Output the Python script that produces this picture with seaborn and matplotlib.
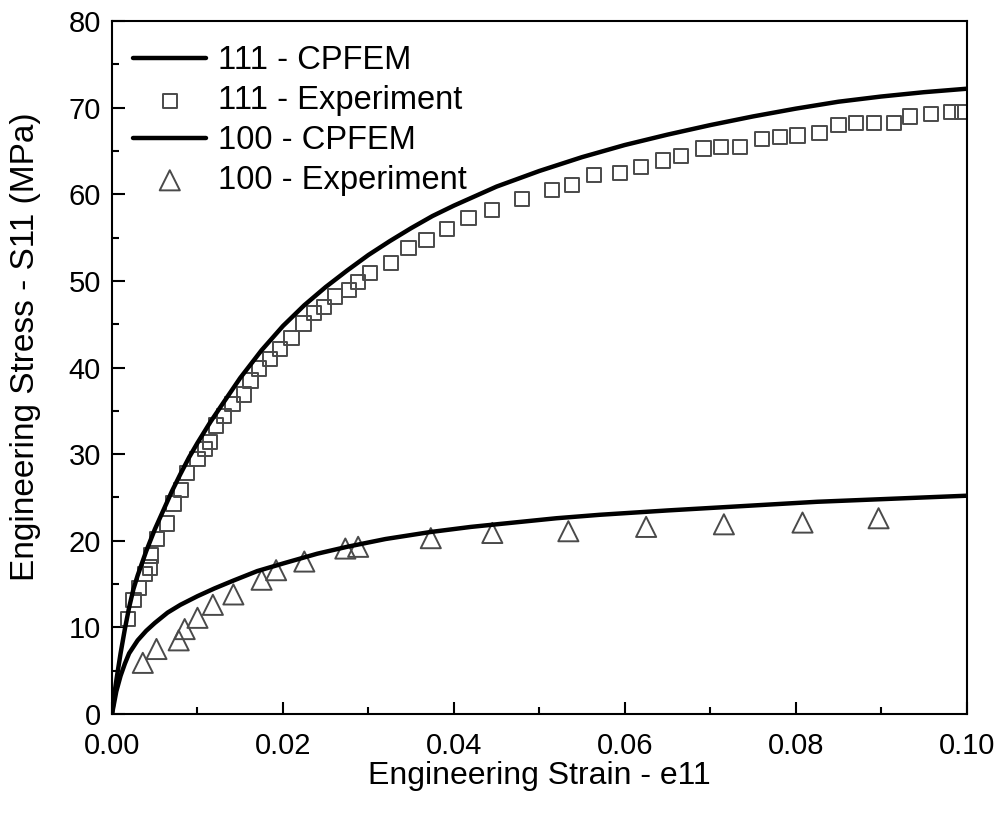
import numpy as np
import pandas as pd
import matplotlib
matplotlib.use("Agg")
import matplotlib.pyplot as plt
import seaborn as sns
from matplotlib.ticker import MultipleLocator

# CPFEM curves
strain_111_fem = [0, 0.0003, 0.0006, 0.001, 0.0015, 0.002, 0.0025, 0.003, 0.004, 0.005,
                  0.006, 0.007, 0.008, 0.009, 0.01, 0.0115, 0.013, 0.015, 0.0175, 0.02,
                  0.0225, 0.025, 0.0275, 0.03, 0.0325, 0.035, 0.0375, 0.04, 0.045, 0.05,
                  0.055, 0.06, 0.065, 0.07, 0.075, 0.08, 0.085, 0.09, 0.095, 0.1]
stress_111_fem = [0, 2.5, 4.5, 7.0, 9.8, 12.3, 14.4, 16.0, 18.8, 21.3,
                  23.5, 25.7, 27.7, 29.6, 31.3, 33.7, 35.9, 38.8, 42.0, 44.8,
                  47.2, 49.3, 51.2, 53.0, 54.6, 56.1, 57.5, 58.7, 60.9, 62.7,
                  64.3, 65.7, 66.9, 68.0, 69.0, 69.9, 70.7, 71.3, 71.8, 72.2]

strain_100_fem = [0, 0.0005, 0.001, 0.0015, 0.002, 0.003, 0.004, 0.005, 0.0065, 0.008,
                  0.01, 0.012, 0.0142, 0.017, 0.0201, 0.024, 0.0275, 0.032, 0.0372, 0.042,
                  0.047, 0.052, 0.0571, 0.065, 0.072, 0.0825, 0.09, 0.1]
stress_100_fem = [0, 2.6, 4.4, 5.8, 7.0, 8.5, 9.6, 10.5, 11.7, 12.6,
                  13.6, 14.5, 15.4, 16.5, 17.4, 18.5, 19.3, 20.2, 21.0, 21.6,
                  22.1, 22.6, 23.0, 23.5, 23.9, 24.5, 24.8, 25.2]

# experiments
strain_111_exp = [0.0019, 0.0025, 0.0032, 0.0039, 0.0044, 0.0046, 0.0053, 0.0064, 0.0072,
                  0.0081, 0.0088, 0.0100, 0.0109, 0.0115, 0.0122, 0.0131, 0.0141, 0.0154,
                  0.0162, 0.0172, 0.0185, 0.0197, 0.0210, 0.0224, 0.0236, 0.0248, 0.0261,
                  0.0277, 0.0288, 0.0302, 0.0326, 0.0347, 0.0368, 0.0392, 0.0417, 0.0445,
                  0.0480, 0.0515, 0.0538, 0.0564, 0.0594, 0.0619, 0.0645, 0.0666, 0.0692,
                  0.0713, 0.0735, 0.0761, 0.0782, 0.0802, 0.0828, 0.0850, 0.0871, 0.0892,
                  0.0915, 0.0934, 0.0958, 0.0982, 0.0995]
stress_111_exp = [10.96, 13.2, 14.5, 16.2, 16.9, 18.3, 20.2, 22.0, 24.3,
                  25.9, 27.8, 29.4, 30.6, 31.4, 33.3, 34.4, 35.8, 36.9,
                  38.5, 39.9, 41.0, 42.1, 43.4, 45.1, 46.3, 47.0, 48.2,
                  49.0, 49.9, 50.9, 52.1, 53.8, 54.7, 56.0, 57.3, 58.2,
                  59.5, 60.5, 61.1, 62.2, 62.5, 63.2, 63.9, 64.4, 65.3,
                  65.5, 65.5, 66.4, 66.6, 66.8, 67.1, 68.0, 68.2, 68.2,
                  68.2, 69.0, 69.3, 69.5, 69.5]

strain_100_exp = [0.0036, 0.0052, 0.0078, 0.0085, 0.0100, 0.0118, 0.0142, 0.0175, 0.0192,
                  0.0225, 0.0273, 0.0288, 0.0373, 0.0445, 0.0534, 0.0625, 0.0716, 0.0808,
                  0.0897]
stress_100_exp = [5.9, 7.5, 8.5, 9.8, 11.1, 12.6, 13.8, 15.5, 16.6,
                  17.6, 19.1, 19.3, 20.3, 20.9, 21.1, 21.6, 21.9, 22.1,
                  22.6]

sns.set_style("ticks")
plt.rcParams['font.family'] = ['Liberation Sans', 'DejaVu Sans']
plt.rcParams['text.color'] = 'black'
plt.rcParams['axes.labelcolor'] = 'black'
plt.rcParams['xtick.color'] = 'black'
plt.rcParams['ytick.color'] = 'black'
plt.rcParams['axes.edgecolor'] = 'black'

fig = plt.figure(figsize=(10.03, 8.15), dpi=100)
ax = fig.add_axes([0.1117, 0.124, 0.852, 0.850])

edge = "#4a4a4a"
sns.lineplot(x=strain_111_fem, y=stress_111_fem, ax=ax, color="black", lw=3.2,
             sort=False, estimator=None, label="111 - CPFEM")
sns.scatterplot(x=strain_111_exp, y=stress_111_exp, ax=ax, marker="s", s=105,
                facecolor="none", edgecolor=edge, linewidth=1.4, label="111 - Experiment")
sns.lineplot(x=strain_100_fem, y=stress_100_fem, ax=ax, color="black", lw=3.2,
             sort=False, estimator=None, label="100 - CPFEM")
sns.scatterplot(x=strain_100_exp, y=stress_100_exp, ax=ax, marker="^", s=210,
                facecolor="none", edgecolor=edge, linewidth=1.4, label="100 - Experiment")

ax.set_xlim(0, 0.10)
ax.set_ylim(0, 80)
ax.xaxis.set_major_locator(MultipleLocator(0.02))
ax.xaxis.set_minor_locator(MultipleLocator(0.01))
ax.yaxis.set_major_locator(MultipleLocator(10))
ax.yaxis.set_minor_locator(MultipleLocator(5))
ax.xaxis.set_major_formatter(plt.FormatStrFormatter("%.2f"))
ax.tick_params(which="major", direction="in", length=9, width=1.5, labelsize=21)
ax.tick_params(axis="x", which="major", pad=13)
ax.tick_params(axis="y", which="major", pad=8)
ax.tick_params(which="minor", direction="in", length=5, width=1.5)
for s in ax.spines.values():
    s.set_linewidth(1.5)
    s.set_visible(True)

ax.set_xlabel("Engineering Strain - e11", fontsize=23, labelpad=1)
ax.set_ylabel("Engineering Stress - S11 (MPa)", fontsize=24)
ax.yaxis.set_label_coords(-0.083, 0.53)

ax.legend(loc="upper left", frameon=False, fontsize=23.5, handlelength=2.25,
          handletextpad=0.35, labelspacing=0.27, borderaxespad=0, borderpad=0,
          bbox_to_anchor=(0.0246, 0.965))

fig.savefig("out.png", dpi=100)
